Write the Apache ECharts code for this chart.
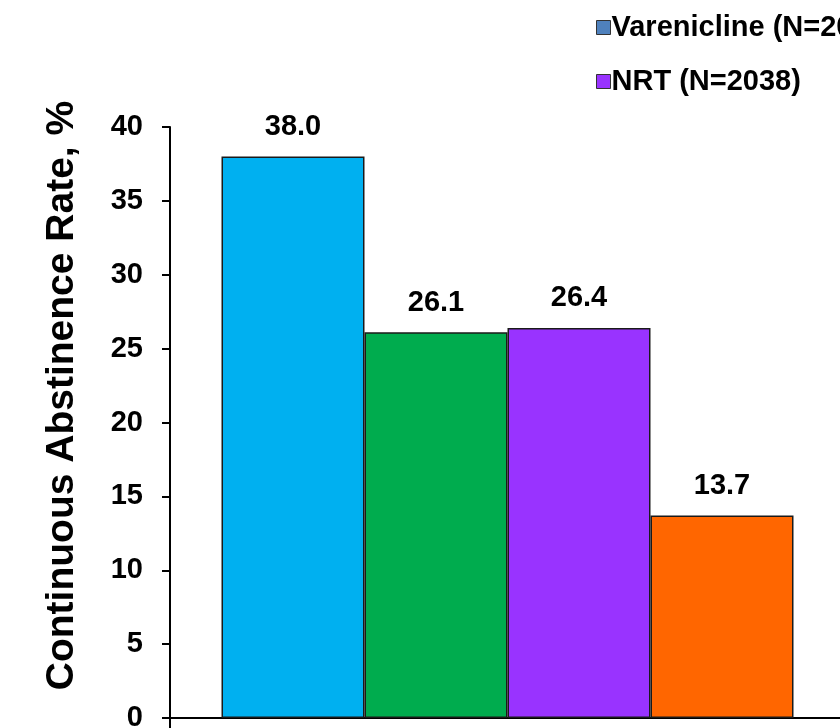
<!DOCTYPE html>
<html>
<head>
<meta charset="utf-8">
<script src="https://cdn.jsdelivr.net/npm/echarts@6/dist/echarts.min.js"></script>
<style>
  html, body { margin: 0; padding: 0; background: #fff; }
  #chart { width: 840px; height: 728px; }
</style>
</head>
<body>
<div id="chart"></div>
<script>
// Continuous abstinence rate by treatment arm
const categories = [''];
const seriesNames = ['Varenicline (N=2037)', 'Bupropion (N=2034)', 'NRT (N=2038)', 'Placebo (N=2035)'];
const seriesValues = [38.0, 26.1, 26.4, 13.7];
const barColors = ['#00B0F0', '#00AC4E', '#9933FF', '#FF6600'];
// legend order: first column Varenicline / NRT, second column Bupropion / Placebo
const legendOrder = ['Varenicline (N=2037)', 'NRT (N=2038)', 'Bupropion (N=2034)', 'Placebo (N=2035)'];
const legendColors = ['#4F81BD', '#9933FF', '#00AC4E', '#FF6600'];
const yTicks = { min: 0, max: 40, interval: 5 };

const FONT = '"Liberation Sans", Arial, sans-serif';

const chart = echarts.init(document.getElementById('chart'), null, { renderer: 'canvas' });

const series = seriesNames.map((name, i) => ({
  name: name,
  type: 'bar',
  data: [seriesValues[i]],
  barWidth: 143,
  barGap: '0%',
  itemStyle: { color: barColors[i], borderColor: '#1a1a1a', borderWidth: 1.5 },
  label: {
    show: true,
    position: 'top',
    distance: 15,
    color: '#000',
    fontFamily: FONT,
    fontWeight: 'bold',
    fontSize: 29,
    formatter: p => Number(p.value).toFixed(1)
  }
}));

chart.setOption({
  animation: false,
  backgroundColor: '#fff',
  legend: {
    orient: 'vertical',
    left: 591,
    top: 8,
    height: 100,
    itemWidth: 14,
    itemHeight: 14,
    itemGap: 25,
    icon: 'rect',
    textStyle: { fontFamily: FONT, fontWeight: 'bold', fontSize: 29, color: '#000', padding: [0, 0, 0, -4] },
    data: legendOrder.map((n, i) => ({
      name: n,
      itemStyle: { color: legendColors[i], borderColor: '#333', borderWidth: 1 }
    }))
  },
  grid: { left: 170, right: -5, top: 127, bottom: 10, containLabel: false, outerBoundsMode: 'none' },
  xAxis: {
    type: 'category',
    data: categories,
    boundaryGap: true,
    axisLine: { show: true, lineStyle: { color: '#000', width: 2 } },
    axisTick: { show: true, length: 12, lineStyle: { color: '#000', width: 2 } },
    axisLabel: { show: false }
  },
  yAxis: {
    type: 'value',
    min: yTicks.min,
    max: yTicks.max,
    interval: yTicks.interval,
    name: 'Continuous Abstinence Rate, %',
    nameLocation: 'middle',
    nameGap: 88,
    nameTextStyle: {
      fontFamily: FONT, fontWeight: 'bold', fontSize: 39, color: '#000',
      padding: [0, 0, 0, 54]
    },
    splitLine: { show: false },
    axisLine: { show: true, lineStyle: { color: '#000', width: 2 } },
    axisTick: { show: true, length: 8, lineStyle: { color: '#000', width: 2 } },
    axisLabel: { fontFamily: FONT, fontWeight: 'bold', fontSize: 29, color: '#000', margin: 27 }
  },
  series: series
});
</script>
</body>
</html>
